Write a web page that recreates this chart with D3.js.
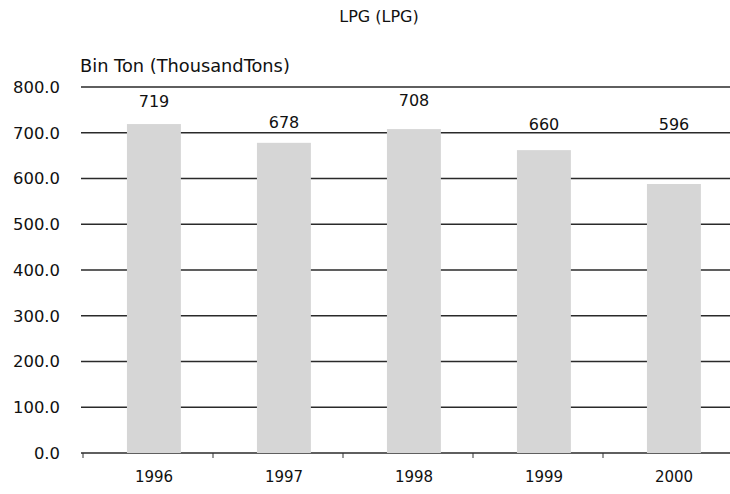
<!DOCTYPE html>
<html><head><meta charset="utf-8">
<script src="https://cdn.jsdelivr.net/npm/d3@7"></script>
<style>body{margin:0;background:#fff}svg{display:block}text{font-family:"DejaVu Sans",sans-serif;fill:#111}</style>
</head><body><svg id="c" width="730" height="494"></svg>
<script>
const title = "LPG (LPG)";
const yTitle = "Bin Ton (ThousandTons)";
const years = ["1996","1997","1998","1999","2000"];
const barValues = [719, 678, 708, 662, 588];
const valueLabels = ["719", "678", "708", "660", "596"];
const labelLevels = [769, 724, 770, 719, 719];
const yTicks = [0,100,200,300,400,500,600,700,800];

const svg = d3.select("#c");
const x = d3.scaleBand().domain(years).range([83, 733]).padding(0);
const y = d3.scaleLinear().domain([0, 800]).range([453, 87]);
const bw = x.bandwidth();

svg.append("text").attr("x", 379).attr("y", 16).attr("dy","0.36em").attr("text-anchor","middle").attr("font-size",16).text(title);
svg.append("text").attr("x", 80).attr("y", 65.5).attr("dy","0.36em").attr("font-size",17.8).text(yTitle);

// gridlines
svg.append("g").selectAll("line").data(yTicks).join("line")
  .attr("x1", 81).attr("x2", 730).attr("y1", d=>y(d)).attr("y2", d=>y(d))
  .attr("stroke","#2a2a2a").attr("stroke-width",1.4);

// tick labels
svg.append("g").selectAll("text").data(yTicks).join("text")
  .attr("x", 60).attr("y", d=>y(d)).attr("dy","0.36em").attr("text-anchor","end")
  .attr("font-size",16.4).text(d=>d3.format(".1f")(d));

// bottom ticks
svg.append("g").selectAll("line").data(years).join("line")
  .attr("x1", d=>x(d)).attr("x2", d=>x(d)).attr("y1", y(0)).attr("y2", y(0)+5)
  .attr("stroke","#333").attr("stroke-width",1);

// bars
svg.append("g").selectAll("rect").data(barValues).join("rect")
  .attr("x", (d,i)=>x(years[i]) + bw*0.338).attr("width", bw*0.415)
  .attr("y", d=>y(d)).attr("height", d=>y(0)-y(d)).attr("fill","#d6d6d6");

// value labels
svg.append("g").selectAll("text").data(valueLabels).join("text")
  .attr("x", (d,i)=>x(years[i]) + bw*0.546).attr("y", (d,i)=>y(labelLevels[i])).attr("dy","0.36em")
  .attr("text-anchor","middle").attr("font-size",16).text(d=>d);

// year labels
svg.append("g").selectAll("text").data(years).join("text")
  .attr("x", d=>x(d) + bw*0.546).attr("y", 476.5).attr("dy","0.36em")
  .attr("text-anchor","middle").attr("font-size",15).text(d=>d);
</script></body></html>
